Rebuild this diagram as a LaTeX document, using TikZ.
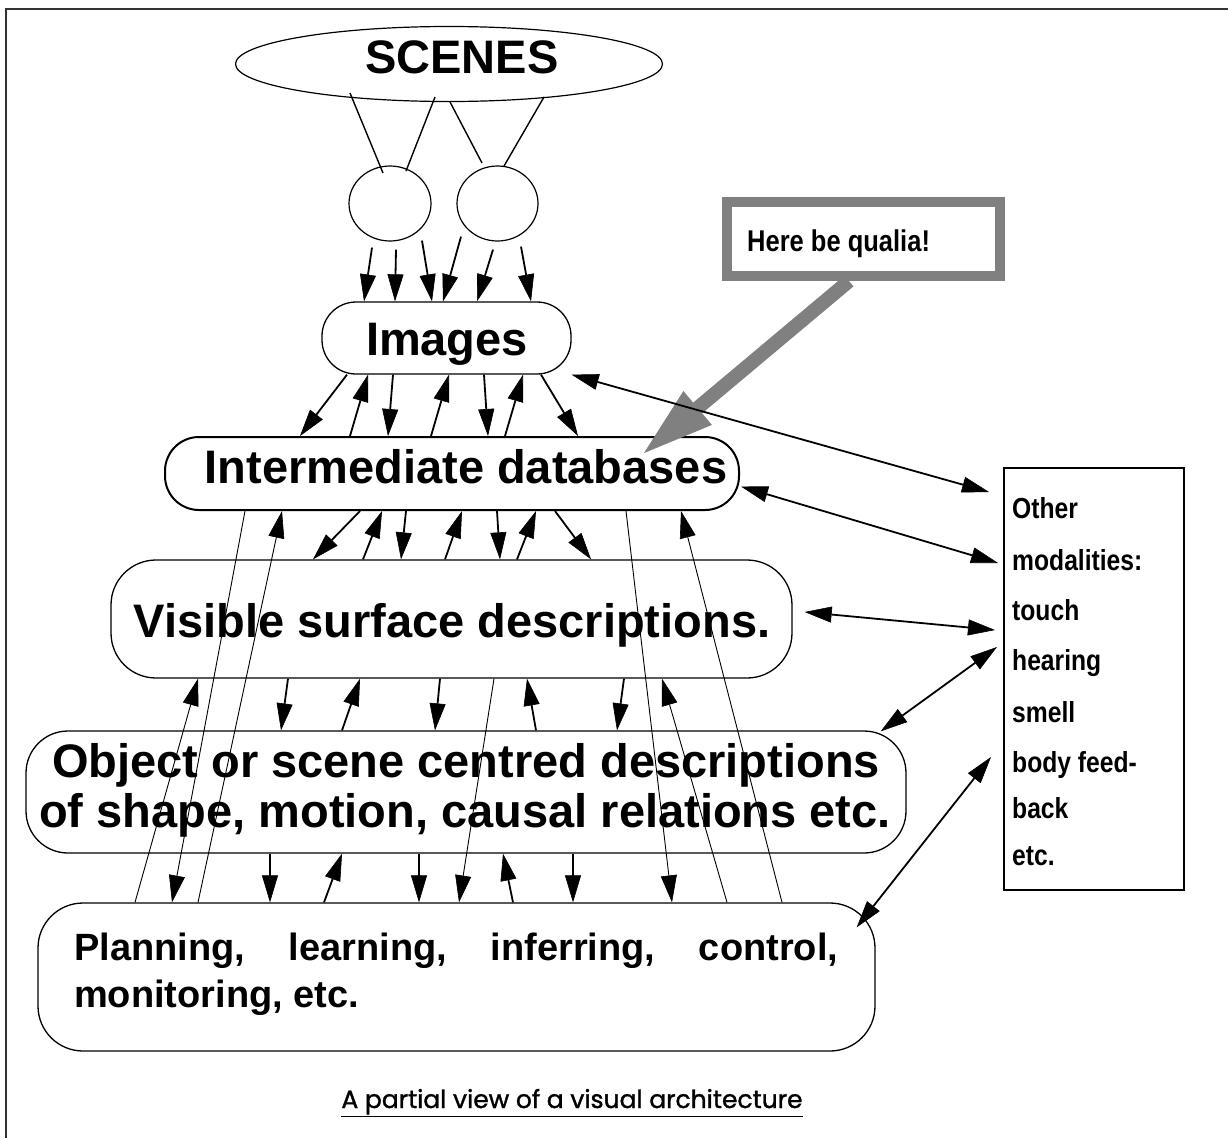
\documentclass[tikz,border=0pt]{standalone}
\usepackage{fontspec}
\setmainfont{Liberation Sans}
\newfontfamily\narrowsans[FakeStretch=0.85]{Liberation Sans}
\newfontfamily\capfont[FakeBold=1.3]{Poppins}
\usetikzlibrary{arrows.meta,shapes.geometric,calc}

\begin{document}
\begin{tikzpicture}[x=1pt,y=-1pt,
  tip/.tip={Triangle[length=27pt,width=16pt,line width=0.6pt]},
  level/.style={draw,line width=1.3pt,inner sep=0pt,rectangle},
  eye/.style={draw,line width=1.2pt,ellipse,inner sep=0pt},
  bigtext/.style={font=\fontsize{47}{56}\selectfont\bfseries,inner sep=0pt,anchor=base},
  plantext/.style={font=\fontsize{38}{46}\selectfont\bfseries,inner sep=0pt,anchor=base west},
  modtext/.style={font=\narrowsans\fontsize{29}{35}\selectfont\bfseries,inner sep=0pt,anchor=base west},
  arr/.style={line width=1.8pt,-tip},
  thinarr/.style={line width=0.9pt,-tip},
  link/.style={line width=1.4pt},
  dbl/.style={line width=1.8pt,tip-tip},
]
% page and frame
\useasboundingbox (0,0) rectangle (1228,1138);
\fill[white] (0,0) rectangle (1228,1138);
\draw[line width=2pt,black!80] (5.5,1138) -- (5.5,8.5) -- (1228,8.5);

% scene and the two eyes
\node[eye,minimum width=427pt,minimum height=75pt] (scenes) at (449,64) {};
\node[bigtext] (scenestxt) at (462,73) {SCENES};
\node[eye,minimum width=82pt,minimum height=75pt] (eyeL) at (390,203.5) {};
\node[eye,minimum width=81pt,minimum height=75pt] (eyeR) at (497.5,203.5) {};

% processing levels
\node[level,minimum width=249pt,minimum height=72pt,rounded corners=34pt] (img) at (446.5,338) {};
\node[bigtext] (imgtxt) at (447,355) {Images};
\node[level,line width=2pt,minimum width=574pt,minimum height=73pt,rounded corners=34pt] (inter) at (452,473.5) {};
\node[bigtext] (intertxt) at (466,483) {Intermediate databases};
\node[level,minimum width=681pt,minimum height=118pt,rounded corners=45pt] (vis) at (451.5,619) {};
\node[bigtext] (vistxt) at (452,637) {Visible surface descriptions.};
\node[level,minimum width=880pt,minimum height=122pt,rounded corners=42pt] (obj) at (466,792) {};
\node[bigtext] (objtxtA) at (466,777) {Object or scene centred descriptions};
\node[bigtext] (objtxtB) at (465,827) {of shape, motion, causal relations etc.};
\node[level,minimum width=837pt,minimum height=148pt,rounded corners=45pt] (plan) at (456.5,977) {};
\node[plantext] (plantxtA) at (74,960) {\hbox to 764pt{Planning,\hfill learning,\hfill inferring,\hfill control,}};
\node[plantext] (plantxtB) at (74,1007) {monitoring, etc.};

% other modalities
\node[level,line width=2pt,minimum width=180pt,minimum height=422pt] (other) at (1094,679) {};
\foreach \t/\yy [count=\i] in {Other/518,modalities:/570,touch/620,hearing/670,smell/722,body feed-/772,back/818,etc./865}
  \node[modtext] (mod\i) at (1012,\yy) {\t};

% qualia callout
\node[draw=black!50,line width=10pt,inner sep=0pt,minimum width=273pt,minimum height=74pt] (qualia) at (863.5,239) {};
\node[font=\narrowsans\fontsize{30}{36}\selectfont\bfseries,inner sep=0pt,anchor=base west] (qualiatxt) at (747,251) {Here be qualia!};
\draw[black!50,line width=14pt,-{Triangle[length=70pt,width=44pt,line width=0.5pt]}]
  (849,0 |- qualia.south) -- ($(inter.north -| 644,0)+(0,17)$);

% scene to eyes
\draw[link] ($(scenes.center)+(-99,29)$) -- ($(eyeL.center)+(-7,-30.5)$);
\draw[link] ($(scenes.center)+(-14,33)$) -- ($(eyeL.center)+(16,-32.5)$);
\draw[link] ($(scenes.center)+(1,38)$) -- ($(eyeR.center)+(-15.5,-40.5)$);
\draw[link] ($(scenes.center)+(95,33)$) -- ($(eyeR.center)+(6.5,-37.5)$);

% eyes to images
\draw[arr] ($(eyeL.south)+(-18,6)$) -- (364,0 |- img.north);
\draw[arr] ($(eyeL.south)+(6,8)$) -- (395,0 |- img.north);
\draw[arr] ($(eyeL.south)+(32,-1)$) -- (432,0 |- img.north);
\draw[arr] ($(eyeR.south)+(-36.5,-5)$) -- (443,0 |- img.north);
\draw[arr] ($(eyeR.south)+(-4.5,8)$) -- (477,0 |- img.north);
\draw[arr] ($(eyeR.south)+(23.5,5)$) -- (531,0 |- img.north);

% images <-> intermediate databases
\draw[arr] (347,0 |- img.south) -- (300,0 |- inter.north);
\draw[arr] (350,0 |- inter.north) -- (368,0 |- img.south);
\draw[arr] (393,0 |- img.south) -- (388,0 |- inter.north);
\draw[arr] (431,0 |- inter.north) -- (449,0 |- img.south);
\draw[arr] (484,0 |- img.south) -- (488,0 |- inter.north);
\draw[arr] (505,0 |- inter.north) -- (523,0 |- img.south);
\draw[arr] (541,0 |- img.south) -- (578,0 |- inter.north);

% intermediate databases <-> visible surfaces
\draw[arr] (360,0 |- inter.south) -- (313,0 |- vis.north);
\draw[arr] (363,0 |- vis.north) -- (382,0 |- inter.south);
\draw[arr] (406,0 |- inter.south) -- (401,0 |- vis.north);
\draw[arr] (445,0 |- vis.north) -- (462,0 |- inter.south);
\draw[arr] (497,0 |- inter.south) -- (500,0 |- vis.north);
\draw[arr] (517,0 |- vis.north) -- (536,0 |- inter.south);
\draw[arr] (555,0 |- inter.south) -- (591,0 |- vis.north);

% visible surfaces <-> object descriptions
\draw[arr] (288,0 |- vis.south) -- (281,0 |- obj.north);
\draw[arr] (342,0 |- obj.north) -- (360,0 |- vis.south);
\draw[arr] (440,0 |- vis.south) -- (435,0 |- obj.north);
\draw[arr] (536,0 |- obj.north) -- (527,0 |- vis.south);
\draw[arr] (624,0 |- vis.south) -- (617,0 |- obj.north);

% object descriptions <-> planning
\draw[arr] (270,0 |- obj.south) -- (270,0 |- plan.north);
\draw[arr] (324,0 |- plan.north) -- (342,0 |- obj.south);
\draw[arr] (419,0 |- obj.south) -- (419,0 |- plan.north);
\draw[arr] (513,0 |- plan.north) -- (503,0 |- obj.south);
\draw[arr] (573,0 |- obj.south) -- (573,0 |- plan.north);

% long-range links to and from planning
\draw[thinarr] (245,0 |- inter.south) -- (172,0 |- plan.north);
\draw[thinarr] (198,0 |- plan.north) -- (282,0 |- inter.south);
\draw[thinarr] (135,0 |- plan.north) -- (198,0 |- vis.south);
\draw[thinarr] (494,0 |- vis.south) -- (459,0 |- plan.north);
\draw[thinarr] (626,0 |- inter.south) -- (672,0 |- plan.north);
\draw[thinarr] (782,0 |- plan.north) -- (681,0 |- inter.south);
\draw[thinarr] (727,0 |- plan.north) -- (662,0 |- vis.south);

% links with the other modalities
\draw[dbl] (img.south east) -- ($(other.west |- 0,492)+(-14,0)$);
\draw[dbl] ($(inter.east)+(1,13)$) -- ($(other.west |- 0,563)+(-5,0)$);
\draw[dbl] ($(vis.east)+(12,-7)$) -- ($(other.west |- 0,630)+(-8,0)$);
\draw[dbl] ($(obj.north east)+(-26,1)$) -- ($(other.west |- 0,647)+(-6,0)$);
\draw[dbl] ($(plan.north east)+(-19,25)$) -- ($(other.west |- 0,757)+(-12,0)$);

% caption
\node[font=\capfont\fontsize{25}{30}\selectfont,inner sep=0pt,anchor=base] (caption) at (572,1108) {\underline{A partial view of a visual architecture}};
\end{tikzpicture}
\end{document}
